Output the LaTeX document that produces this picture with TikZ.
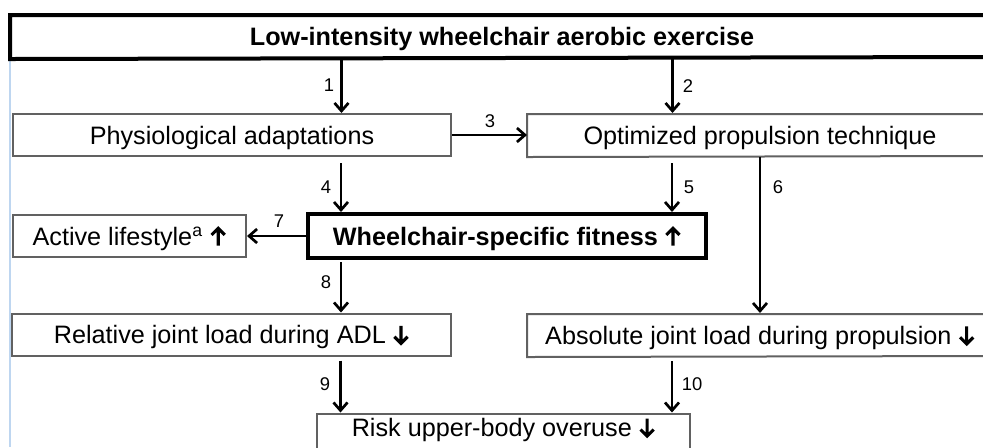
\documentclass[tikz,border=0pt]{standalone}
\usepackage{fontspec}
\setmainfont{Liberation Sans}
\usetikzlibrary{arrows.meta}
\newcommand{\upar}{\tikz[baseline=0pt,x=1pt,y=1pt]{\draw[line width=1.55pt, line cap=butt, miter limit=4] (0,-0.2) -- (0,8.6) (-3.3,5.2) -- (0,8.5) -- (3.3,5.2);}}
\newcommand{\downar}{\tikz[baseline=0pt,x=1pt,y=1pt]{\draw[line width=1.55pt, line cap=butt, miter limit=4] (0,9.0) -- (0,0.2) (-3.3,3.5) -- (0,0.2) -- (3.3,3.5);}}
\begin{document}
\begin{tikzpicture}[x=0.5pt,y=-0.5pt,
  box/.style={draw=black!62, line width=1pt, rectangle, inner xsep=0pt, inner ysep=0pt,
    font=\fontsize{12.6}{15}\selectfont, text=black, text height=9.3pt, text depth=0pt,
    minimum height=21pt},
  thickbox/.style={box, draw=black, line width=2pt, font=\fontsize{12.6}{15}\selectfont\bfseries},
  textonly/.style={draw=none},
  arr/.style={line width=1.35pt, -{Straight Barb[length=4pt,width=7pt,line width=1.35pt]}},
  num/.style={font=\fontsize{9.2}{11}\selectfont, inner sep=0pt}
]
\useasboundingbox (0,0) rectangle (983,447);
\clip (0,0) rectangle (983,447);
\fill[white] (0,0) rectangle (983,447);
\draw[color={rgb,255:red,190;green,214;blue,240}, line width=0.8pt] (10,13) -- (10,447);

\node[thickbox, textonly, minimum width=490pt] (top) at (502,36) {Low-intensity wheelchair aerobic exercise};
\draw[black, line width=2pt, line join=miter] (990,15) -| (top.south west) -- (990,57);
\node[box, minimum width=219pt] (phys) at (232,135) {Physiological adaptations};
\node[box, textonly, minimum width=232pt] (opt) at (760,135) {Optimized propulsion technique};
\draw[black!62, line width=1pt] (990,114) -| (opt.south west) -- (990,156);
\node[box, minimum width=116.5pt] (act) at (129.5,236) {Active lifestyle\textsuperscript{a} \upar};
\node[thickbox, minimum width=199pt, minimum height=22pt] (wsf) at (507,236) {Wheelchair-specific fitness \upar};
\node[box, minimum width=219.5pt] (rel) at (231.5,334.5) {Relative joint load during ADL \downar};
\node[box, textonly, minimum width=232pt] (abs) at (760,335) {Absolute joint load during propulsion \downar};
\draw[black!62, line width=1pt] (990,314) -| (abs.south west) -- (990,356);
\node[box, anchor=north, minimum width=186.5pt, minimum height=0pt, inner ysep=2.2pt, text depth=25pt] (risk) at (503.5,412.5) {Risk upper-body overuse \downar};

% connectors
\coordinate (p1) at (341.5,57);
\draw[arr] (top.south -| p1) -- (phys.north -| p1);
\coordinate (p2) at (672.5,57);
\draw[arr] (top.south -| p2) -- (opt.north -| p2);
\draw[arr] (phys.east |- 0,135) -- (opt.west |- 0,135);
\coordinate (p4) at (341,0);
\draw[arr, shorten <=3pt] (phys.south -| p4) -- (wsf.north -| p4);
\coordinate (p5) at (672,0);
\draw[arr, shorten <=3pt] (opt.south -| p5) -- (wsf.north -| p5);
\coordinate (p6) at (760,0);
\draw[arr] (opt.south -| p6) -- (abs.north -| p6);
\draw[arr] (wsf.west) -- (act.east);
\coordinate (p8) at (341,0);
\draw[arr, shorten <=1pt] (wsf.south -| p8) -- (rel.north -| p8);
\coordinate (p9) at (340.5,0);
\draw[arr, shorten <=2pt] (rel.south -| p9) -- (risk.north -| p9);
\coordinate (p10) at (672,0);
\draw[arr, shorten <=2pt] (abs.south -| p10) -- (risk.north -| p10);

% labels
\node[num] (l1) at (329,85) {1};
\node[num] (l2) at (688,86) {2};
\node[num] (l3) at (490,121) {3};
\node[num] (l4) at (326,187) {4};
\node[num] (l5) at (689,187) {5};
\node[num] (l6) at (778,187) {6};
\node[num] (l7) at (279,221) {7};
\node[num] (l8) at (326,282) {8};
\node[num] (l9) at (325,384) {9};
\node[num] (l10) at (692,384) {10};
\end{tikzpicture}
\end{document}
